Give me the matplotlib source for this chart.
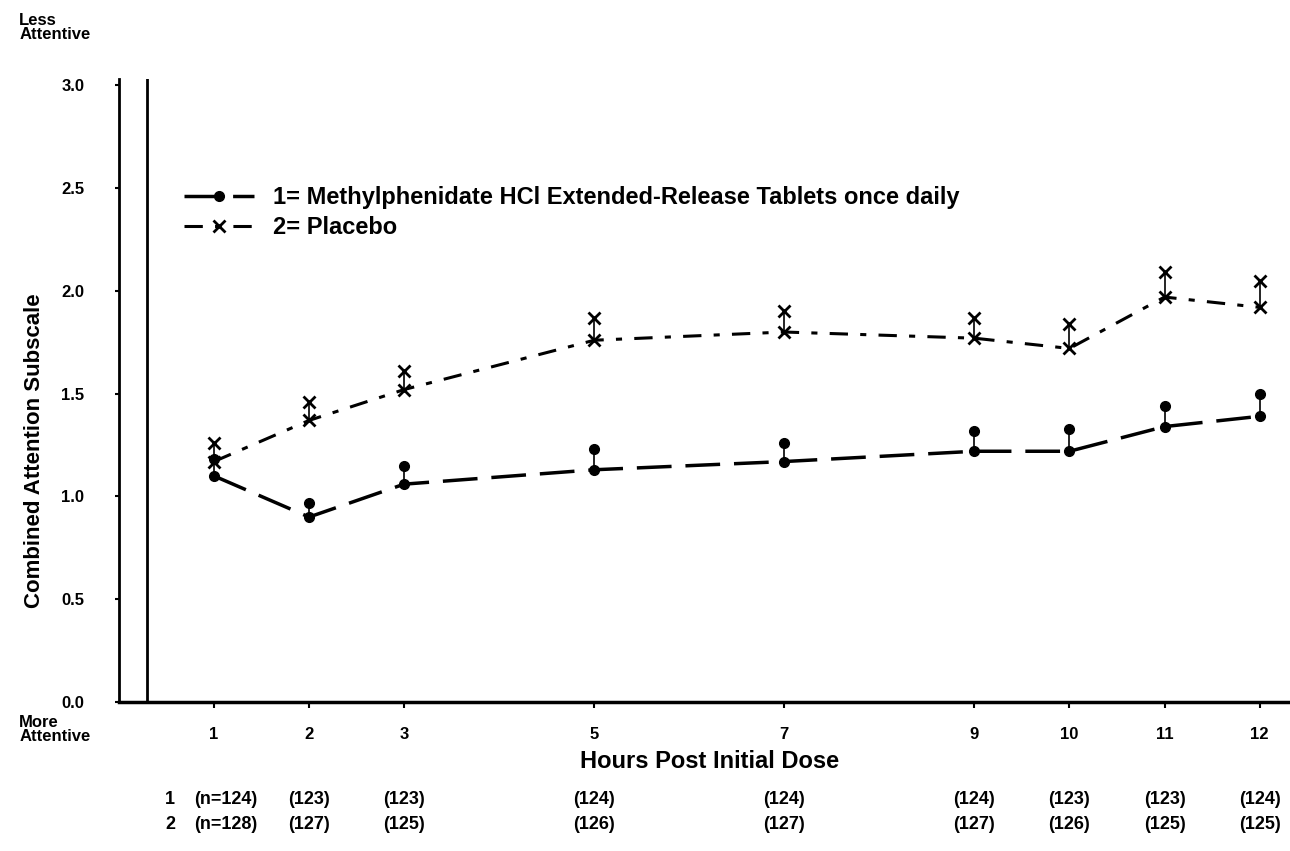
import matplotlib
matplotlib.use('Agg')
import matplotlib.pyplot as plt
import matplotlib.transforms as mtransforms
import numpy as np

plt.rcParams['font.family'] = ['Liberation Sans', 'DejaVu Sans']
plt.rcParams['font.weight'] = 'bold'

hours = [1, 2, 3, 5, 7, 9, 10, 11, 12]
mph_mean = [1.10, 0.90, 1.06, 1.13, 1.17, 1.22, 1.22, 1.34, 1.39]
mph_upper = [1.18, 0.97, 1.15, 1.23, 1.26, 1.32, 1.33, 1.44, 1.50]
pbo_mean = [1.17, 1.37, 1.52, 1.76, 1.80, 1.77, 1.72, 1.97, 1.92]
pbo_upper = [1.26, 1.46, 1.61, 1.87, 1.90, 1.87, 1.84, 2.09, 2.05]
n_mph = ['(n=124)', '(123)', '(123)', '(124)', '(124)', '(124)', '(123)', '(123)', '(124)']
n_pbo = ['(n=128)', '(127)', '(125)', '(126)', '(127)', '(127)', '(126)', '(125)', '(125)']
yticks = [0.0, 0.5, 1.0, 1.5, 2.0, 2.5, 3.0]

fig = plt.figure(figsize=(12.9, 8.51), dpi=100)
ax = fig.add_axes([0.0922, 0.175, 0.9078, 0.732])

mph_err = np.array(mph_upper) - np.array(mph_mean)
pbo_err = np.array(pbo_upper) - np.array(pbo_mean)

# placebo: dash-dot line, x markers, upper error bar only
ax.errorbar(hours, pbo_mean, yerr=[np.zeros(len(hours)), pbo_err], fmt='none',
            ecolor='black', elinewidth=1.2, capsize=0)
ax.plot(hours, pbo_upper, linestyle='none', marker='x', ms=8, mew=2, color='black')
ax.plot(hours, pbo_mean, linestyle=(0, (6, 4, 2, 4)), lw=2.2, color='black',
        marker='x', ms=8, mew=2, label='2= Placebo')

# methylphenidate: long dashes, filled circles
ax.errorbar(hours, mph_mean, yerr=[np.zeros(len(hours)), mph_err], fmt='none',
            ecolor='black', elinewidth=1.2, capsize=0)
ax.plot(hours, mph_upper, linestyle='none', marker='o', ms=7, color='black')
ax.plot(hours, mph_mean, linestyle=(0, (10, 4)), lw=2.5, color='black',
        marker='o', ms=7, label='1= Methylphenidate HCl Extended-Release Tablets once daily')

ax.set_xlim(0, 12.32)
ax.set_ylim(0, 3.03)
ax.set_xticks(hours)
ax.set_xticklabels([str(h) for h in hours], fontsize=12, fontweight='bold')
ax.set_yticks(yticks)
ax.set_yticklabels(['%.1f' % t for t in yticks], fontsize=12, fontweight='bold')
ax.tick_params(axis='x', length=4, width=1.5, pad=14)
ax.tick_params(axis='y', length=3, width=1.5, pad=22)
for s in ['top', 'right']:
    ax.spines[s].set_visible(False)
ax.spines['left'].set_linewidth(2)
ax.spines['bottom'].set_linewidth(2.5)
ax.axvline(0.30, color='black', lw=2)

handles, labels = ax.get_legend_handles_labels()
ax.legend(handles[::-1], labels[::-1], loc='upper left', bbox_to_anchor=(0.037, 0.862),
          frameon=False, handlelength=3.0, labelspacing=0.3,
          prop={'size': 17, 'weight': 'bold'})

fig.text(0.027, 0.47, 'Combined Attention Subscale', rotation=90, ha='center',
         va='center', fontsize=16, fontweight='bold')
fig.text(0.55, 0.105, 'Hours Post Initial Dose', ha='center', va='center',
         fontsize=17, fontweight='bold')
fig.text(0.015, 0.985, 'Less\nAttentive', ha='left', va='top', fontsize=12,
         fontweight='bold', linespacing=0.95)
fig.text(0.015, 0.16, 'More\nAttentive', ha='left', va='top', fontsize=12,
         fontweight='bold', linespacing=0.95)

trans = mtransforms.blended_transform_factory(ax.transData, fig.transFigure)
fig.text(0.132, 0.06, '1', ha='center', va='center', fontsize=13, fontweight='bold')
fig.text(0.132, 0.031, '2', ha='center', va='center', fontsize=13, fontweight='bold')
for h, a, b in zip(hours, n_mph, n_pbo):
    ax.text(h + (0.12 if a.startswith('(n') else 0), 0.06, a, transform=trans,
            ha='center', va='center', fontsize=13, fontweight='bold')
    ax.text(h + (0.12 if b.startswith('(n') else 0), 0.031, b, transform=trans,
            ha='center', va='center', fontsize=13, fontweight='bold')

fig.savefig('out.png', dpi=100)
